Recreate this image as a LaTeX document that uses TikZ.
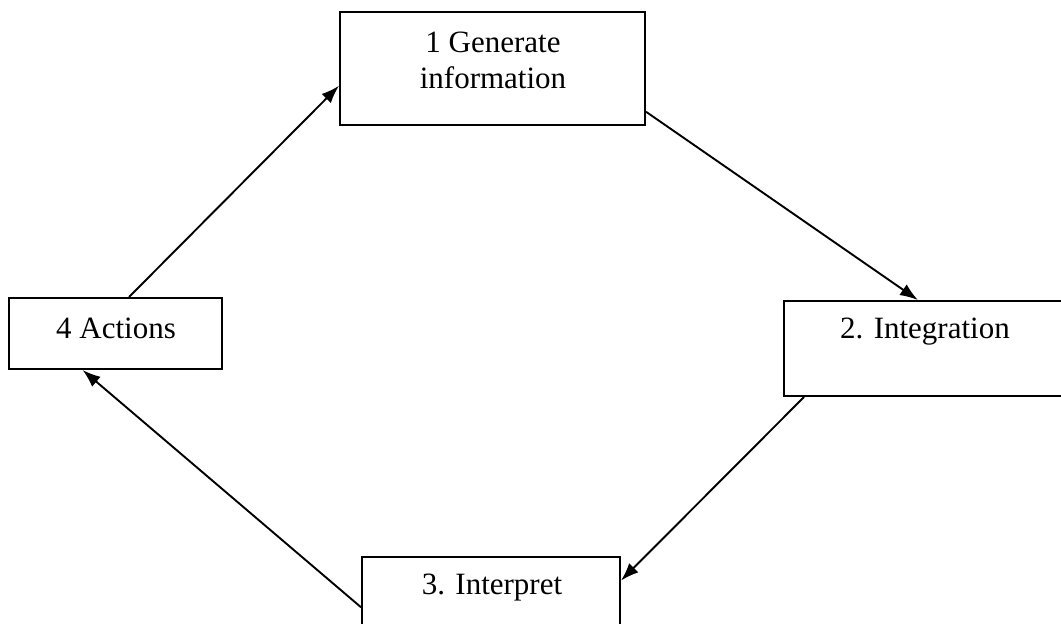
\documentclass[tikz,border=0pt]{standalone}
\usepackage{fontspec}
\setmainfont{Liberation Serif}
\usetikzlibrary{arrows.meta,calc}
\begin{document}
\begin{tikzpicture}[x=1pt,y=-1pt,
  box/.style={draw=black,line width=2pt,fill=white,inner sep=0pt},
  lbl/.style={inner sep=0pt,font=\fontsize{31}{36}\selectfont,align=center},
  flow/.style={draw=black,line width=1.9pt,-{Latex[length=18pt,width=13pt]}}]
  \useasboundingbox (0,0) rectangle (1061,624);
  \clip (0,0) rectangle (1061,624);

  % boxes of the cycle
  \node[box,minimum width=305pt,minimum height=113pt] (n1) at (492.5,68.5) {};
  \node[box,minimum width=282pt,minimum height=95pt]  (n2) at (925,348.5) {};
  \node[box,minimum width=258pt,minimum height=80pt]  (n3) at (491,597) {};
  \node[box,minimum width=213pt,minimum height=71pt]  (n4) at (115.5,333.5) {};

  % captions
  \node[lbl] (t1) at (493,60) {1 Generate\\information};
  \node[lbl] (t2) at (925,332) {2. Integration};
  \node[lbl] (t3) at (492,588) {3. Interpret};
  \node[lbl] (t4) at (116,328) {4 Actions};

  % cycle arrows
  \draw[flow] ($(n4.north west)!0.563!(n4.north east)$) -- ($(n1.north west)!0.65!(n1.south west)$);
  \draw[flow] ($(n1.north east)!0.876!(n1.south east)$) -- ($(n2.north west)!0.475!(n2.north east)$);
  \draw[flow] ($(n2.south west)!0.074!(n2.south east)$) -- ($(n3.north east)!0.3!(n3.south east)$);
  \draw[flow] ($(n3.north west)!0.625!(n3.south west)$) -- ($(n4.south west)!0.347!(n4.south east)$);
\end{tikzpicture}
\end{document}
